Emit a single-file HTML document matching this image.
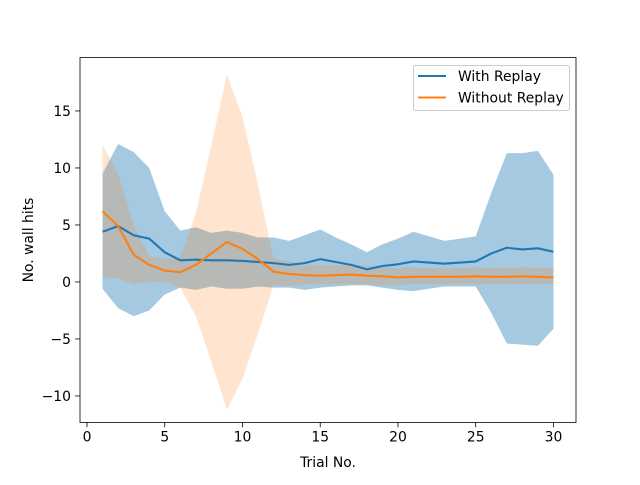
<!DOCTYPE html>
<html><head><meta charset="utf-8"><style>
body{margin:0;background:#fff}
svg text{font-family:"DejaVu Sans","Liberation Sans",sans-serif;font-size:13.9px;fill:#000}
</style></head><body>
<svg id="chart" width="640" height="480" xmlns="http://www.w3.org/2000/svg">
<rect width="640" height="480" fill="#fff"/>
<g id="plot"></g>
</svg>
<script>
const trials=[1,2,3,4,5,6,7,8,9,10,11,12,13,14,15,16,17,18,19,20,21,22,23,24,25,26,27,28,29,30];
const withMean=[4.4,4.9,4.1,3.8,2.6,1.9,1.95,1.9,1.9,1.85,1.75,1.65,1.5,1.65,2.0,1.75,1.5,1.1,1.4,1.55,1.8,1.7,1.6,1.7,1.8,2.5,3.0,2.85,2.95,2.65];
const withUpper=[9.5,12.1,11.4,10.0,6.2,4.5,4.8,4.3,4.5,4.3,3.9,3.9,3.6,4.1,4.6,3.9,3.3,2.6,3.3,3.8,4.4,4.0,3.6,3.8,4.0,7.8,11.3,11.3,11.5,9.4];
const withLower=[-0.6,-2.3,-3.0,-2.5,-1.1,-0.5,-0.7,-0.4,-0.6,-0.6,-0.4,-0.5,-0.5,-0.7,-0.5,-0.4,-0.3,-0.3,-0.5,-0.7,-0.8,-0.6,-0.4,-0.4,-0.4,-2.7,-5.4,-5.5,-5.6,-4.1];
const withoutMean=[6.2,4.9,2.4,1.5,1.0,0.85,1.5,2.5,3.5,2.9,2.0,0.9,0.7,0.6,0.55,0.6,0.65,0.55,0.5,0.4,0.45,0.45,0.45,0.45,0.5,0.45,0.45,0.5,0.45,0.4];
const withoutUpper=[12.0,9.5,5.0,2.3,2.0,2.2,6.0,12.0,18.2,14.5,8.5,2.0,1.8,1.5,1.5,1.5,1.6,1.4,1.3,1.2,1.3,1.2,1.2,1.2,1.3,1.2,1.2,1.3,1.2,1.2];
const withoutLower=[0.4,0.3,-0.2,0.0,0.0,-0.5,-3.0,-7.0,-11.2,-8.5,-4.5,-0.3,-0.4,-0.2,-0.2,-0.2,-0.2,-0.2,-0.3,-0.3,-0.2,-0.2,-0.2,-0.2,-0.2,-0.2,-0.2,-0.2,-0.2,-0.2];
const xTicks=[0,5,10,15,20,25,30];
const yTicks=[-10,-5,0,5,10,15];

const L=80,R=576,T=57.6,B=422.4;
const xmin=-0.45,xmax=31.45,ymin=-12.32,ymax=19.68;
const X=v=>L+(v-xmin)/(xmax-xmin)*(R-L);
const Y=v=>B-(v-ymin)/(ymax-ymin)*(B-T);
const NS="http://www.w3.org/2000/svg";
const g=document.getElementById('plot');
function mk(tag,attrs){const e=document.createElementNS(NS,tag);for(const k in attrs)e.setAttribute(k,attrs[k]);g.appendChild(e);return e;}
function band(up,lo){let d=trials.map((t,i)=>(i?'L':'M')+X(t)+','+Y(up[i])).join('');for(let i=trials.length-1;i>=0;i--)d+='L'+X(trials[i])+','+Y(lo[i]);return d+'Z';}
function line(m){return trials.map((t,i)=>(i?'L':'M')+X(t)+','+Y(m[i])).join('');}

let e;
e=mk('path',{d:band(withUpper,withLower),fill:'#1f77b4','fill-opacity':0.4});


e=mk('path',{d:band(withoutUpper,withoutLower),fill:'#ff7f0e','fill-opacity':0.2});


e=mk('path',{d:line(withMean),fill:'none',stroke:'#1f77b4','stroke-width':2.08,'stroke-linejoin':'round'});


e=mk('path',{d:line(withoutMean),fill:'none',stroke:'#ff7f0e','stroke-width':2.08,'stroke-linejoin':'round'});



e=mk('rect',{x:L,y:T,width:R-L,height:B-T,fill:'none',stroke:'#000','stroke-width':0.8});



xTicks.forEach(v=>{
  const x=X(v);
  mk('line',{x1:x,x2:x,y1:B,y2:B+4.9,stroke:'#000','stroke-width':0.8});
  const t=mk('text',{x:x,y:B+19,'text-anchor':'middle'});t.textContent=v;
  
  
});
yTicks.forEach(v=>{
  const y=Y(v);
  mk('line',{x1:L-4.9,x2:L,y1:y,y2:y,stroke:'#000','stroke-width':0.8});
  const t=mk('text',{x:L-9,y:y+5,'text-anchor':'end'});t.textContent=(v<0?'\u2212'+(-v):v);
  
  
});
e=mk('text',{x:(L+R)/2,y:467,'text-anchor':'middle'});e.textContent='Trial No.';


e=mk('text',{x:0,y:0,'text-anchor':'middle',transform:'translate(33,'+((T+B)/2)+') rotate(-90)'});e.textContent='No. wall hits';



const lg=mk('rect',{x:413.5,y:65.5,width:156,height:45,rx:2,fill:'#fff','fill-opacity':0.8,stroke:'#ccc','stroke-width':1});


[['With Replay','#1f77b4',76],['Without Replay','#ff7f0e',97.5]].forEach(([n,c,y])=>{
  mk('line',{x1:418,x2:446,y1:y,y2:y,stroke:c,'stroke-width':2.08});
  const t=mk('text',{x:458,y:y+5});t.textContent=n;
  
  
});
</script>
</body></html>
